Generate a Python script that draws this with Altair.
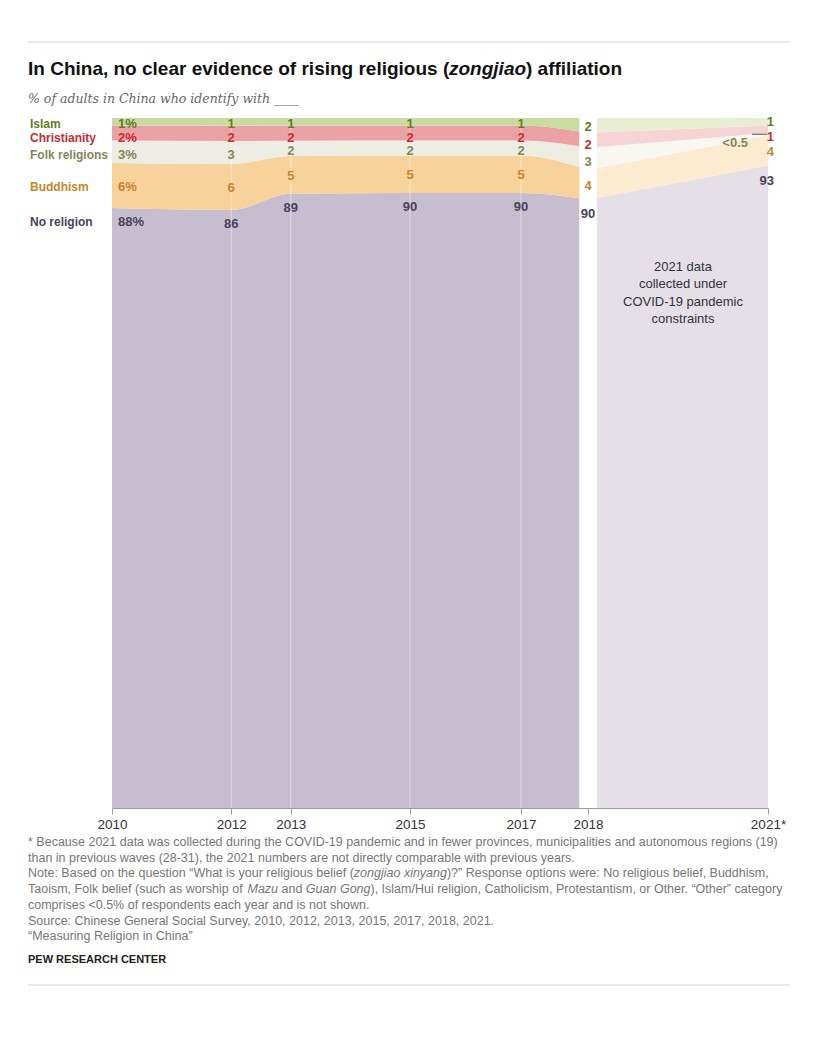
import json

import altair as alt
import pandas as pd

# Survey waves
years = [2010, 2012, 2013, 2015, 2017, 2018, 2021]
tick_labels = ["2010", "2012", "2013", "2015", "2017", "2018", "2021*"]

# Share of adults (%) identifying with each religion, stacked bottom to top
religions = ["No religion", "Buddhism", "Folk religions", "Christianity", "Islam"]
no_religion = [88, 86, 89, 90, 90, 90, 93]
buddhism = [6, 6, 5, 5, 5, 4, 4]
folk_religions = [3, 3, 2, 2, 2, 3, 0.3]
christianity = [2, 2, 2, 2, 2, 2, 1]
islam = [1, 1, 1, 1, 1, 2, 1]

# Printed figures that differ from the plain number
label_overrides = {("Folk religions", 2021): "<0.5"}

# 2021 wave is shown apart from the earlier ones
gap_start, gap_end = 2017.87, 2018.15

# vertical extent of the stack (the baseline is cut to give the small groups room)
y_floor, y_top = 8, 100

series = {
    "No religion": no_religion,
    "Buddhism": buddhism,
    "Folk religions": folk_religions,
    "Christianity": christianity,
    "Islam": islam,
}

solid_fill = {
    "Islam": "#c9dba1",
    "Christianity": "#eaa2a5",
    "Folk religions": "#eeede3",
    "Buddhism": "#f7d29b",
    "No religion": "#c6bdcf",
}
faded_fill = {
    "Islam": "#e7eed4",
    "Christianity": "#f6d3d5",
    "Folk religions": "#f8f7f2",
    "Buddhism": "#fcead1",
    "No religion": "#e5e0e8",
}
text_color = {
    "Islam": "#5f7c25",
    "Christianity": "#cb2a35",
    "Folk religions": "#84865b",
    "Buddhism": "#c7852b",
    "No religion": "#47425b",
}
# vertical nudge of each group's value labels (px)
label_dy = {"Islam": 2, "Christianity": 5, "Folk religions": 3, "Buddhism": 1}
label_dy_last = {"Islam": 0, "Christianity": 8, "Folk religions": 9, "Buddhism": 2}

FONT = "Liberation Sans"
W, H = 656, 690

# ---- stacked table (each wave scaled to a 100% stack) ----
rows = []
for i, yr in enumerate(years):
    total = sum(series[r][i] for r in religions)
    base = 0.0
    for r in religions:
        v = series[r][i]
        h = v * 100.0 / total
        txt = label_overrides.get((r, yr), f"{v:g}")
        if yr == years[0]:
            txt += "%"
        rows.append(dict(year=yr, religion=r, value=v, lo=base, hi=base + h,
                         mid=base + h / 2, label=txt))
        base += h
df = pd.DataFrame(rows)

solid = df[df.year <= 2018].assign(key=lambda d: d.religion)
faded = df[df.year >= 2018].assign(key=lambda d: d.religion + " (2021)")
area_df = pd.concat([solid, faded], ignore_index=True)

fill_keys = religions + [r + " (2021)" for r in religions]
fill_range = [solid_fill[r] for r in religions] + [faded_fill[r] for r in religions]

x_scale = alt.Scale(domain=[2010, 2015, 2017, 2018, 2021],
                    range=[0, 298, 409, 476, W], nice=False, zero=False)
y_scale = alt.Scale(domain=[y_floor, y_top], nice=False, zero=False, clamp=True)
x_axis = alt.Axis(
    values=years,
    labelExpr=f"{json.dumps(tick_labels)}[indexof({json.dumps(years)}, datum.value)]",
    grid=False, domainColor="#9b9b9b", tickColor="#9b9b9b", tickSize=6,
    labelFont=FONT, labelFontSize=13.5, labelColor="#333333", labelPadding=3,
    labelFlush=False,
)
X = alt.X("year:Q", scale=x_scale, axis=x_axis, title=None)
color_scale = alt.Scale(domain=religions, range=[text_color[r] for r in religions])

areas = alt.Chart(area_df).mark_area(interpolate="monotone").encode(
    x=X,
    y=alt.Y("lo:Q", scale=y_scale, axis=None, title=None),
    y2="hi:Q",
    fill=alt.Fill("key:N", scale=alt.Scale(domain=fill_keys, range=fill_range), legend=None),
)

grid_df = pd.DataFrame({"year": [y for y in years if 2010 < y < 2018]})
grid = alt.Chart(grid_df).mark_rule(color="white", opacity=0.45, strokeWidth=1).encode(
    x=X, y=alt.value(0), y2=alt.value(H)
)

gap_df = pd.DataFrame({"start": [gap_start], "end": [gap_end]})
gap = alt.Chart(gap_df).mark_rect(color="white").encode(
    x=alt.X("start:Q", scale=x_scale, axis=x_axis, title=None),
    x2="end:Q",
    y=alt.value(-2), y2=alt.value(H),
)


def labels(data, field, text, align, dx, dy, size=13):
    return alt.Chart(data).mark_text(
        align=align, baseline="middle", dx=dx, dy=dy, font=FONT,
        fontWeight="bold", fontSize=size,
    ).encode(
        x=X,
        y=alt.Y(f"{field}:Q", scale=y_scale, axis=None, title=None),
        text=f"{text}:N",
        color=alt.Color("religion:N", scale=color_scale, legend=None),
    )


first, last = years[0], years[-1]
layers = [areas, grid, gap]

for r in religions:
    d = df[df.religion == r]
    d_first = d[d.year == first]
    d_mid = d[(d.year > first) & (d.year < last)]
    d_last = d[d.year == last]
    if r == "No religion":
        layers.append(labels(d_first, "hi", "religion", "left", -82, 14, 12))
        layers.append(labels(d_first, "hi", "label", "left", 6, 14))
        layers.append(labels(d_mid, "hi", "label", "center", 0, 14))
        layers.append(labels(d_last, "hi", "label", "right", 6, 15))
        continue
    dy = label_dy[r]
    layers.append(labels(d_first, "mid", "religion", "left", -82, dy, 12))
    layers.append(labels(d_first, "mid", "label", "left", 6, dy))
    layers.append(labels(d_mid, "mid", "label", "center", 0, dy))
    lt = d_last.label.str.startswith("<")
    if lt.any():
        layers.append(labels(d_last[lt], "mid", "label", "right", -20, label_dy_last[r]))
        # leader line from the "<0.5" label to its sliver
        layers.append(alt.Chart(d_last[lt]).mark_rule(color="#555555", strokeWidth=1).encode(
            x=alt.value(W - 16), x2=alt.value(W - 1),
            y=alt.Y("mid:Q", scale=y_scale, axis=None, title=None),
        ))
    if (~lt).any():
        layers.append(labels(d_last[~lt], "mid", "label", "right", 6, label_dy_last[r]))

one = alt.Data(values=[{}])

layers.append(alt.Chart(one).mark_text(
    text=["2021 data", "collected under", "COVID-19 pandemic", "constraints"],
    align="center", baseline="top", font=FONT, fontSize=13, lineHeight=17.3,
    color="#333333",
).encode(x=alt.value(571), y=alt.value(143)))

# ---- title, with the romanised term in italics ----
title_style = dict(align="left", baseline="alphabetic", font=FONT, fontSize=19,
                   fontWeight="bold", color="#111111")
layers.append(alt.Chart(one).mark_text(text="In China, no clear evidence of rising religious (", **title_style)
              .encode(x=alt.value(-84), y=alt.value(-43)))
layers.append(alt.Chart(one).mark_text(text="zongjiao", fontStyle="italic", **title_style)
              .encode(x=alt.value(-84 + 421), y=alt.value(-43)))
layers.append(alt.Chart(one).mark_text(text=") affiliation", **title_style)
              .encode(x=alt.value(-84 + 498), y=alt.value(-43)))

layers.append(alt.Chart(one).mark_text(
    text="% of adults in China who identify with ____", align="left", baseline="alphabetic",
    font="DejaVu Serif", fontStyle="italic", fontSize=12.5, color="#666666",
).encode(x=alt.value(-84), y=alt.value(-15)))

# ---- notes: advance widths (per 1000 em) of Liberation Sans for laying out italic runs ----
ADVANCE = {}
for chars, w in [
    ("ijl", 222), (" !,./:ftI", 278), ("()-r\u201c\u201d", 333), ("*", 389),
    ("ckvxyzsJ", 500), ("abdeghnopqu0123456789?L", 556), ("<", 584),
    ("FTZ", 611), ("ABEKPSVXY", 667), ("CDHNRUw", 722), ("GOQ", 778),
    ("Mm", 833), ("%", 889), ("W", 944),
]:
    for ch in chars:
        ADVANCE[ch] = w


def text_width(s, size):
    return sum(ADVANCE.get(ch, 556) for ch in s) * size / 1000.0


NOTE_SIZE, NOTE_LEAD = 12.5, 15.7
note_lines = [
    [("* Because 2021 data was collected during the COVID-19 pandemic and in fewer provinces, municipalities and autonomous regions (19)", False)],
    [("than in previous waves (28-31), the 2021 numbers are not directly comparable with previous years.", False)],
    [("Note: Based on the question \u201cWhat is your religious belief (", False),
     ("zongjiao xinyang", True),
     (")?\u201d Response options were: No religious belief, Buddhism,", False)],
    [("Taoism, Folk belief (such as worship of ", False), ("Mazu", True), (" and ", False),
     ("Guan Gong", True),
     ("), Islam/Hui religion, Catholicism, Protestantism, or Other. \u201cOther\u201d category", False)],
    [("comprises <0.5% of respondents each year and is not shown.", False)],
    [("Source: Chinese General Social Survey, 2010, 2012, 2013, 2015, 2017, 2018, 2021.", False)],
    [("\u201cMeasuring Religion in China\u201d", False)],
]
for li, line in enumerate(note_lines):
    xpos = -84.0
    for seg, italic in line:
        # leading blanks would be collapsed by the renderer, so step over them
        body = seg.lstrip(" ")
        xpos += text_width(seg[: len(seg) - len(body)], NOTE_SIZE)
        style = {"fontStyle": "italic"} if italic else {}
        layers.append(alt.Chart(one).mark_text(
            text=body, align="left", baseline="top", font=FONT, fontSize=NOTE_SIZE,
            color="#767676", **style,
        ).encode(x=alt.value(round(xpos, 2)), y=alt.value(718 + li * NOTE_LEAD)))
        xpos += text_width(body, NOTE_SIZE)

layers.append(alt.Chart(one).mark_text(
    text="PEW RESEARCH CENTER", align="left", baseline="top", font=FONT, fontSize=11,
    fontWeight="bold", color="#222222",
).encode(x=alt.value(-84), y=alt.value(836)))

for yy in (-76, 867):
    layers.append(alt.Chart(one).mark_rule(color="#d4d4d4", strokeWidth=1).encode(
        x=alt.value(-84), x2=alt.value(678), y=alt.value(yy)))

chart = alt.layer(*layers).properties(
    width=W, height=H,
    padding={"left": 112, "top": 118, "right": 60, "bottom": 235},
    autosize=alt.AutoSizeParams(type="none"),
    background="white",
).configure_view(stroke=None)

chart.save("out.html", embed_options={"renderer": "svg", "actions": False})
